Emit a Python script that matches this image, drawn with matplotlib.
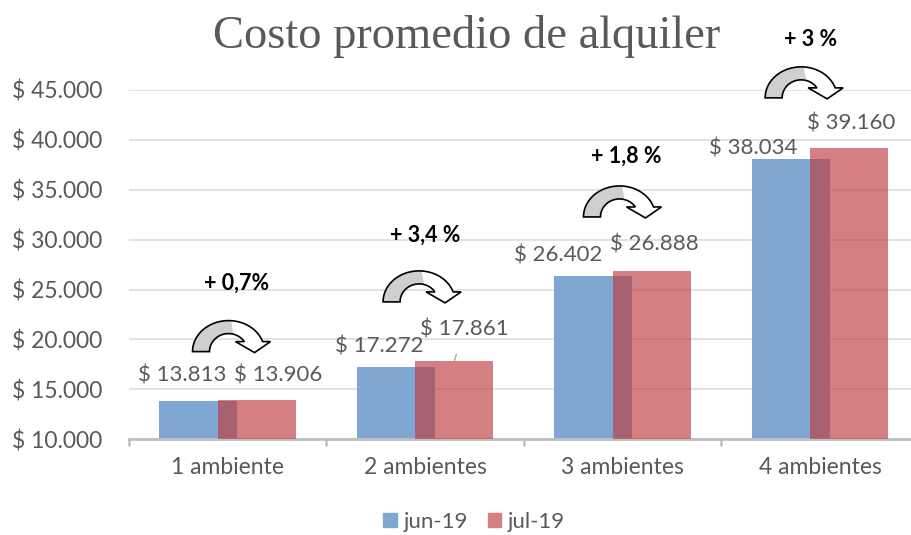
import matplotlib.pyplot as plt
from matplotlib.patches import Patch, Polygon
from matplotlib.transforms import ScaledTranslation
import numpy as np

# data
categorias = ['1 ambiente', '2 ambientes', '3 ambientes', '4 ambientes']
jun19 = [13813, 17272, 26402, 38034]
jul19 = [13906, 17861, 26888, 39160]
variacion = ['+ 0,7%', '+ 3,4 %', '+ 1,8 %', '+ 3 %']
yticks = [10000, 15000, 20000, 25000, 30000, 35000, 40000, 45000]

azul = '#7FA7D1'
rojo = (0.745, 0.24, 0.25)
rojo_legend = '#D47F81'
gris = '#595959'

plt.rcParams['font.family'] = ['Lato', 'DejaVu Sans']

def pesos(v):
    return '$ ' + f'{v:,}'.replace(',', '.')

fig = plt.figure(figsize=(9.12, 5.35), dpi=100)
ax = fig.add_axes([0.1414, 0.179, 0.866, 0.653])

x = np.arange(len(categorias))
w = 0.395
off = 0.148
ax.bar(x - off, jun19, w, color=azul, zorder=2)
ax.bar(x + off, jul19, w, color=rojo, alpha=0.66, zorder=3)

ax.set_ylim(10000, 45000)
ax.set_xlim(-0.5, 3.5)
ax.set_yticks(yticks)
ax.set_yticklabels([pesos(v) for v in yticks], color=gris, fontsize=16.5)
ax.yaxis.grid(True, color='#DDDDDD', lw=1.2, zorder=0)
ax.tick_params(axis='y', length=0, pad=19)
ax.set_xticks(x)
ax.set_xticklabels(categorias, color=gris, fontsize=16.5)
ax.set_xticks(np.arange(-0.5, 4, 1), minor=True)
ax.tick_params(axis='x', which='major', length=0, pad=13)
ax.tick_params(axis='x', which='minor', length=5, color='#BFBFBF', width=1.8)
for s in ['top', 'right', 'left']:
    ax.spines[s].set_visible(False)
ax.spines['bottom'].set_color('#BFBFBF')
ax.spines['bottom'].set_linewidth(2)

# value labels, offsets in pixels from bar top
off_jun = [(-16, 26), (-17, 20), (-35, 20), (-38, 11)]
off_jul = [(21, 25), (10, 31), (3, 26), (2, 25)]
for i in range(len(categorias)):
    ax.annotate(pesos(jun19[i]), (x[i] - off, jun19[i]), xytext=off_jun[i],
                textcoords='offset pixels', ha='center', va='center',
                color=gris, fontsize=16)
    props = None
    if i == 1:
        props = dict(arrowstyle='-', color='#A6A6A6', lw=1, shrinkA=9, shrinkB=0)
    ax.annotate(pesos(jul19[i]), (x[i] + off, jul19[i]), xytext=off_jul[i],
                textcoords='offset pixels', ha='center', va='center',
                color=gris, fontsize=16, arrowprops=props)


# curved arrow shape, in pixels from its left base corner
def flecha_curva(ax, xd, yd):
    t_out = np.linspace(np.pi, np.arcsin(10 / 31), 50)
    t_in = np.linspace(np.arcsin(10 / 18), np.pi, 50)
    outer = np.column_stack([36 + 36 * np.cos(t_out), 31 * np.sin(t_out)])
    inner = np.column_stack([36 + 19 * np.cos(t_in), 18 * np.sin(t_in)])
    head = np.array([[78, 10], [62, -1], [43, 10]])
    pts = np.vstack([outer, head, inner])
    g_out = np.linspace(np.pi, 1.5, 30)
    g_in = np.linspace(1.3, np.pi, 30)
    gray = np.vstack([np.column_stack([36 + 36 * np.cos(g_out), 31 * np.sin(g_out)]),
                      np.column_stack([36 + 19 * np.cos(g_in), 18 * np.sin(g_in)])])
    tr = ScaledTranslation(xd, yd, ax.transData)
    ax.add_patch(Polygon(pts, closed=True, facecolor='white', edgecolor='none',
                         transform=tr, clip_on=False, zorder=5))
    ax.add_patch(Polygon(gray, closed=True, facecolor='#CFCFCF', edgecolor='none',
                         transform=tr, clip_on=False, zorder=6))
    ax.add_patch(Polygon(pts, closed=True, facecolor='none', edgecolor='black',
                         lw=1.2, joinstyle='miter', transform=tr, clip_on=False, zorder=7))


flecha_dx = [-0.178, -0.213, -0.198, -0.278]
flecha_y = [18780, 23760, 32270, 44200]
pct_dx = [0.046, 0.0, 0.02, -0.05]
pct_y = [25660, 30470, 38390, 50010]
for i in range(len(categorias)):
    flecha_curva(ax, x[i] + flecha_dx[i], flecha_y[i])
    ax.text(x[i] + pct_dx[i], pct_y[i], variacion[i], ha='center', va='center',
            fontsize=15.5, fontweight='bold', color='black', clip_on=False)

fig.text(0.512, 0.932, 'Costo promedio de alquiler', ha='center', va='center',
         fontsize=33.5, color=gris, family='Liberation Serif')

fig.legend(handles=[Patch(color=azul, label='jun-19'),
                    Patch(color=rojo_legend, label='jul-19')],
           loc='center', bbox_to_anchor=(0.52, 0.024), ncol=2, frameon=False,
           handlelength=0.6, handleheight=0.6, handletextpad=0.3, columnspacing=0.9,
           labelcolor=gris, fontsize=16)

fig.savefig('out.png', dpi=100)
